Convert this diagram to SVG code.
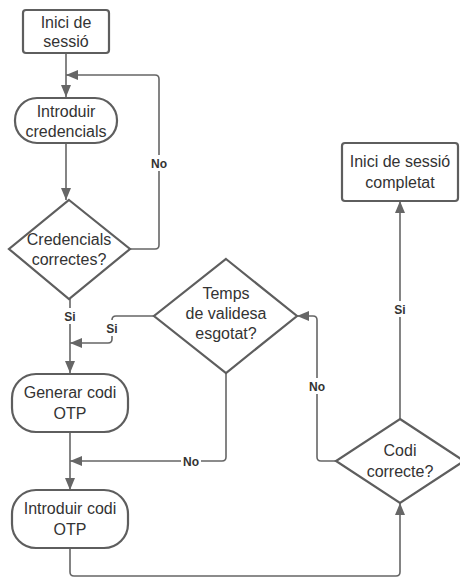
<svg xmlns="http://www.w3.org/2000/svg" width="460" height="578" viewBox="0 0 460 578">
<defs>
<style>
.shape{fill:#fff;stroke:#5e5e5e;stroke-width:2.2}
.con{fill:none;stroke:#666;stroke-width:1.6}
.t{font-family:"Liberation Sans",Arial,sans-serif;font-size:16px;fill:#333;text-anchor:middle}
.lb{font-family:"Liberation Sans",Arial,sans-serif;font-size:12px;font-weight:bold;fill:#333;text-anchor:middle}
.bg{fill:#fff}
</style>
<marker id="ah" markerUnits="userSpaceOnUse" markerWidth="12" markerHeight="10" refX="12" refY="5" orient="auto">
<path d="M0,0 L12,5 L0,10 z" fill="#666"/>
</marker>
</defs>
<rect width="460" height="578" fill="#fff"/>
<g id="connectors">
<path class="con" d="M66,53 V97" marker-end="url(#ah)"/>
<path class="con" d="M130,249 H155 Q159,249 159,245 V79 Q159,75 155,75 H66" marker-end="url(#ah)"/>
<path class="con" d="M66,143 V200" marker-end="url(#ah)"/>
<path class="con" d="M70,299 V373" marker-end="url(#ah)"/>
<path class="con" d="M154,316 H116 Q112,316 112,320 V339 Q112,343 108,343 H70" marker-end="url(#ah)"/>
<path class="con" d="M70,432 V490" marker-end="url(#ah)"/>
<path class="con" d="M226,373 V457 Q226,461 222,461 H70" marker-end="url(#ah)"/>
<path class="con" d="M70,548 V572 Q70,576 74,576 H396 Q400,576 400,572 V503" marker-end="url(#ah)"/>
<path class="con" d="M336,461 H321 Q317,461 317,457 V320 Q317,316 313,316 H297" marker-end="url(#ah)"/>
<path class="con" d="M400,419 V201" marker-end="url(#ah)"/>
<rect class="bg" x="150" y="155" width="18" height="16"/>
<text class="lb" x="159" y="168">No</text>
<rect class="bg" x="61" y="308" width="18" height="16"/>
<text class="lb" x="70" y="321">Si</text>
<rect class="bg" x="104" y="320" width="16" height="16"/>
<text class="lb" x="112" y="333">Si</text>
<rect class="bg" x="181" y="453" width="20" height="16"/>
<text class="lb" x="191" y="466">No</text>
<rect class="bg" x="308" y="378" width="18" height="16"/>
<text class="lb" x="317" y="391">No</text>
<rect class="bg" x="392" y="301" width="16" height="16"/>
<text class="lb" x="400" y="314">Si</text>
</g>
<g id="n1">
<rect class="shape" x="23" y="10" width="86" height="43" rx="3"/>
<text class="t" x="66" y="28">Inici de</text>
<text class="t" x="66" y="47">sessió</text>
</g>
<g id="n2">
<rect class="shape" x="15" y="98" width="102" height="45" rx="22"/>
<text class="t" x="66" y="117">Introduir</text>
<text class="t" x="66" y="137">credencials</text>
</g>
<g id="d1">
<path class="shape" d="M69,200 L130,249 L69,299 L9,249 z"/>
<text class="t" x="69" y="245">Credencials</text>
<text class="t" x="69" y="265">correctes?</text>
</g>
<g id="d2">
<path class="shape" d="M226,259 L297,316 L226,373 L154,316 z"/>
<text class="t" x="226" y="299">Temps</text>
<text class="t" x="226" y="319">de validesa</text>
<text class="t" x="226" y="339">esgotat?</text>
</g>
<g id="n3">
<rect class="shape" x="12" y="374" width="116" height="58" rx="24"/>
<text class="t" x="70" y="398">Generar codi</text>
<text class="t" x="70" y="419">OTP</text>
</g>
<g id="n4">
<rect class="shape" x="12" y="490" width="116" height="58" rx="24"/>
<text class="t" x="70" y="514">Introduir codi</text>
<text class="t" x="70" y="535">OTP</text>
</g>
<g id="d3">
<path class="shape" d="M400,419 L464,461 L400,503 L336,461 z"/>
<text class="t" x="400" y="456">Codi</text>
<text class="t" x="400" y="477">correcte?</text>
</g>
<g id="n5">
<rect class="shape" x="342" y="143" width="116" height="58" rx="3"/>
<text class="t" x="400" y="167">Inici de sessió</text>
<text class="t" x="400" y="188">completat</text>
</g>
</svg>
